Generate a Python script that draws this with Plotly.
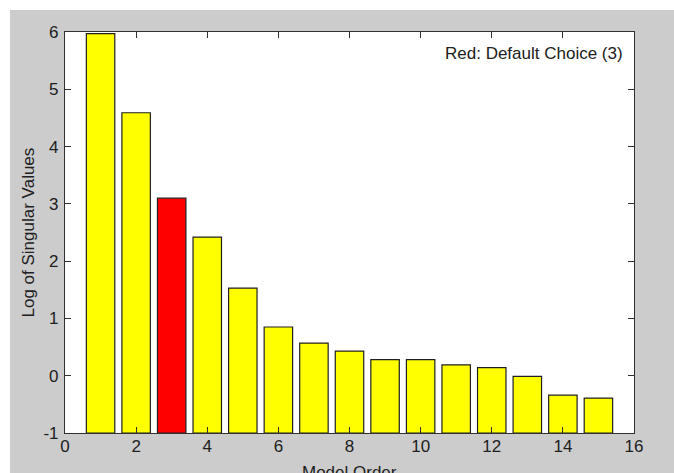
import plotly.graph_objects as go

model_order = list(range(1, 16))
log_singular_values = [5.97, 4.59, 3.10, 2.42, 1.53, 0.85, 0.57, 0.43, 0.28, 0.28, 0.19, 0.14, -0.01, -0.34, -0.39]
default_choice = 3
baseline = -1
x_ticks = [0, 2, 4, 6, 8, 10, 12, 14, 16]
y_ticks = [-1, 0, 1, 2, 3, 4, 5, 6]
y_tick_labels = ["-1", "0", "1", "2", "3", "4", "5", "6"]

colors = ["#ff0000" if o == default_choice else "#ffff00" for o in model_order]

FONT = "Liberation Sans, Arial, sans-serif"
AX = "#303030"

fig = go.Figure(go.Bar(
    x=model_order,
    y=[v - baseline for v in log_singular_values],
    base=[baseline] * len(model_order),
    width=0.8,
    marker=dict(color=colors, line=dict(color="#202020", width=1.2)),
    hoverinfo="skip",
))

fig.update_layout(
    width=674, height=473,
    margin=dict(l=65, r=40, t=32, b=40),
    paper_bgcolor="#cccccc",
    plot_bgcolor="#ffffff",
    showlegend=False,
    font=dict(family=FONT, size=17, color="#202020"),
    xaxis=dict(
        range=[0, 16], tickvals=x_ticks, ticks="inside", ticklen=6, tickcolor=AX,
        showline=True, linecolor=AX, linewidth=1.2, mirror="ticks", showgrid=False,
        zeroline=False, tickfont=dict(size=17), ticklabelstandoff=-3,
    ),
    yaxis=dict(
        range=[-1, 6], tickvals=y_ticks, ticktext=y_tick_labels, ticks="inside", ticklen=6,
        tickcolor=AX, showline=True, linecolor=AX, linewidth=1.2, mirror="ticks",
        showgrid=False, zeroline=False, tickfont=dict(size=17), ticklabelstandoff=2,
    ),
    shapes=[
        dict(type="rect", xref="paper", yref="paper", x0=-0.3, x1=1.3, y0=1.0549, y1=1.3,
             fillcolor="#ffffff", line=dict(width=0)),
        dict(type="rect", xref="paper", yref="paper", x0=-0.3, x1=-0.0967, y0=-0.3, y1=1.3,
             fillcolor="#ffffff", line=dict(width=0)),
    ],
    annotations=[
        dict(text="Red: Default Choice (3)", xref="paper", yref="paper", x=0.984, y=0.9476,
             xanchor="right", yanchor="middle", showarrow=False, font=dict(size=17)),
        dict(text="Log of Singular Values", xref="paper", yref="paper", x=-0.0633, y=0.5,
             xanchor="center", yanchor="middle", textangle=-90, showarrow=False, font=dict(size=17)),
        dict(text="Model Order", xref="paper", yref="paper", x=0.5, y=-0.0698,
             xanchor="center", yanchor="top", showarrow=False, font=dict(size=17)),
    ],
)

fig.write_html(
    "out.html",
    config={"displayModeBar": False},
    post_script="document.body.style.margin='0';document.body.style.overflow='hidden';",
)
